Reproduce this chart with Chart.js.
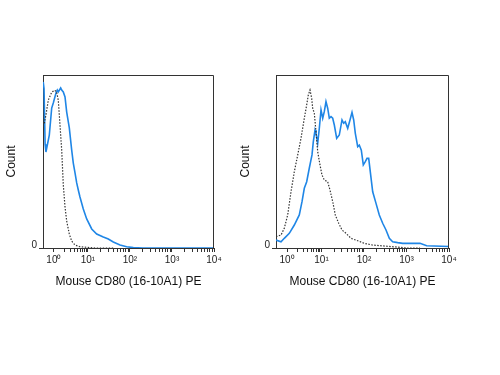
<!DOCTYPE html>
<html><head><meta charset="utf-8">
<script src="https://cdn.jsdelivr.net/npm/chart.js@4.4.1/dist/chart.umd.min.js"></script>
<style>
html,body{margin:0;padding:0;background:#fff;width:500px;height:375px;overflow:hidden;position:relative}
canvas{position:absolute;top:0}
</style></head><body>
<canvas id="c1" width="240" height="375" style="left:0px;width:240px;height:375px"></canvas>
<canvas id="c2" width="260" height="375" style="left:234px;width:260px;height:375px"></canvas>
<script>
// x positions are in display decades of the (biexponential) axis
const xTickValues = [0.19, 1, 2, 3, 4];
const xTickLabels = ['10⁰', '10¹', '10²', '10³', '10⁴'];
const yTickValues = [0];
const yTickLabels = ['0'];
const xTitle = 'Mouse CD80 (16-10A1) PE';
const yTitle = 'Count';

// left panel: stained (blue) and control (dotted)
const leftStained = [
  [-0.065, 96], [-0.045, 92], [-0.02, 60], [0.0, 55.5], [0.08, 65.3], [0.137, 80.9], [0.175, 83.8],
  [0.239, 89.6], [0.27, 91.3], [0.294, 90.2], [0.351, 92.5], [0.375, 91.3], [0.413, 90.2], [0.454, 87.3],
  [0.494, 78.6], [0.556, 69.4], [0.613, 56.6], [0.651, 49.1], [0.692, 43.4], [0.732, 37.6], [0.77, 33.5],
  [0.81, 29.5], [0.889, 22.5], [0.97, 16.8], [1.089, 11], [1.208, 8.1], [1.365, 6.4], [1.484, 5.2],
  [1.603, 3.5], [1.763, 1.7], [1.922, 0.75], [2.08, 0.2], [2.3, 0], [4, 0]
];
const leftControl = [
  [-0.04, 72], [0.001, 77], [0.056, 85.5], [0.137, 90], [0.204, 91.2], [0.25, 90.5], [0.294, 85.5],
  [0.335, 71], [0.375, 56.6], [0.413, 36.4], [0.454, 23.7], [0.494, 15.6], [0.556, 8.1], [0.613, 4],
  [0.692, 1.7], [0.81, 0.75], [0.97, 0.4], [1.17, 0], [1.6, 0]
];
// right panel
const rightStained = [
  [-0.07, 4.6], [0.048, 3.6], [0.125, 5.6], [0.243, 8.5], [0.361, 13.3], [0.478, 19.1], [0.542, 26.8],
  [0.596, 34.5], [0.652, 38.3], [0.713, 46.1], [0.777, 53.8], [0.808, 61.5], [0.848, 68.2], [0.871, 66.3],
  [0.911, 60.5], [0.949, 69.2], [0.989, 79.8], [1.029, 75], [1.066, 78.8], [1.106, 84.6], [1.146, 80.8],
  [1.184, 75], [1.224, 75.9], [1.264, 75], [1.302, 71.1], [1.358, 63.4], [1.419, 65.3], [1.483, 74],
  [1.523, 72.1], [1.56, 73], [1.617, 69.2], [1.671, 74], [1.718, 78.4], [1.758, 74], [1.796, 66.3],
  [1.852, 58.6], [1.89, 59.5], [1.937, 56.6], [1.984, 48], [2.031, 49.9], [2.071, 51.8], [2.111, 51.8],
  [2.148, 44.1], [2.205, 32.5], [2.283, 25.8], [2.36, 19.1], [2.44, 14.3], [2.518, 10.4], [2.596, 5.6],
  [2.675, 3.6], [2.793, 3.1], [2.911, 2.7], [3.318, 2.7], [3.475, 1.3], [4, 0.9]
];
const rightControl = [
  [-0.07, 6.5], [0.048, 7.5], [0.125, 11.4], [0.205, 19.1], [0.283, 32.5], [0.361, 44.1], [0.441, 53.8],
  [0.518, 63.4], [0.596, 75], [0.652, 82.7], [0.69, 88.4], [0.73, 91.3], [0.77, 86.5], [0.793, 80.8],
  [0.831, 77.9], [0.871, 67.2], [0.911, 55.7], [0.965, 48], [1.012, 42.2], [1.066, 39.3], [1.146, 38.3],
  [1.2, 33.5], [1.264, 26.8], [1.325, 19.1], [1.405, 14.3], [1.483, 10.4], [1.577, 8.5], [1.694, 5.6],
  [1.852, 4.2], [2.007, 2.7], [2.205, 1.7], [2.44, 1.2], [2.753, 0.6], [3.0, 0], [3.318, 0]
];

function toPts(arr) { return arr.map(p => ({ x: p[0], y: p[1] })); }

// minor tick marks (axis decoration)
const xMinor = [];
for (let m = 2; m <= 9; m++) {
  xMinor.push(xTickValues[0] + (1 - xTickValues[0]) * Math.log10(m));
  for (let k = 1; k <= 3; k++) xMinor.push(k + Math.log10(m));
}

const framePlugin = {
  id: 'frame',
  afterDraw(chart) {
    const { ctx, chartArea: a } = chart;
    ctx.save();
    ctx.strokeStyle = '#333';
    ctx.lineWidth = 1;
    ctx.beginPath();
    ctx.moveTo(Math.round(a.left) + 0.5, Math.round(a.top) + 0.5);
    ctx.lineTo(Math.round(a.right) - 0.5, Math.round(a.top) + 0.5);
    ctx.lineTo(Math.round(a.right) - 0.5, Math.round(a.bottom));
    ctx.stroke();
    ctx.restore();
  }
};

function makeChart(id, stained, control, plotLeft, padRight) {
  return new Chart(document.getElementById(id), {
    type: 'line',
    data: {
      datasets: [
        { data: toPts(control), borderColor: '#333', borderWidth: 1.2, borderDash: [1.5, 1.5],
          pointRadius: 0, tension: 0, fill: false },
        { data: toPts(stained), borderColor: '#1f86e6', borderWidth: 1.6,
          pointRadius: 0, tension: 0, fill: false }
      ]
    },
    options: {
      responsive: false, animation: false, devicePixelRatio: 1,
      layout: { padding: { left: 0, top: 75, right: padRight, bottom: 82 } },
      plugins: { legend: { display: false }, tooltip: { enabled: false } },
      scales: {
        x: {
          type: 'linear', min: -0.07, max: 4,
          afterFit: s => { s.height = 45; },
          afterBuildTicks: s => {
            s.ticks = xTickValues.concat(xMinor).sort((a, b) => a - b).map(v => ({ value: v }));
          },
          ticks: {
            autoSkip: false, maxRotation: 0, padding: 2,
            font: { family: 'Liberation Sans, Arial', size: 10 }, color: '#222',
            callback: v => { const i = xTickValues.findIndex(t => Math.abs(t - v) < 1e-6); return i >= 0 ? xTickLabels[i] : ''; }
          },
          grid: { drawOnChartArea: false, drawTicks: true, tickLength: 4, tickColor: '#333' },
          border: { display: true, color: '#333', width: 1 },
          title: { display: true, text: xTitle, color: '#111',
            font: { family: 'Liberation Sans, Arial', size: 12 }, padding: { top: 0, bottom: 4 } }
        },
        y: {
          type: 'linear', min: 0, max: 100,
          afterFit: s => { s.width = plotLeft; },
          afterBuildTicks: s => { s.ticks = yTickValues.map(v => ({ value: v })); },
          ticks: {
            padding: 2, labelOffset: -3,
            font: { family: 'Liberation Sans, Arial', size: 10 }, color: '#222',
            callback: v => { const i = yTickValues.indexOf(v); return i >= 0 ? yTickLabels[i] : ''; }
          },
          grid: { drawOnChartArea: false, drawTicks: true, tickLength: 4, tickColor: '#333' },
          border: { display: true, color: '#333', width: 1 },
          title: { display: true, text: yTitle, color: '#111',
            font: { family: 'Liberation Sans, Arial', size: 12 }, padding: { top: 4, bottom: 0 } }
        }
      }
    },
    plugins: [framePlugin]
  });
}

makeChart('c1', leftStained, leftControl, 43, 240 - 214);
makeChart('c2', rightStained, rightControl, 276 - 234, 260 - (449 - 234));
</script>
</body></html>
